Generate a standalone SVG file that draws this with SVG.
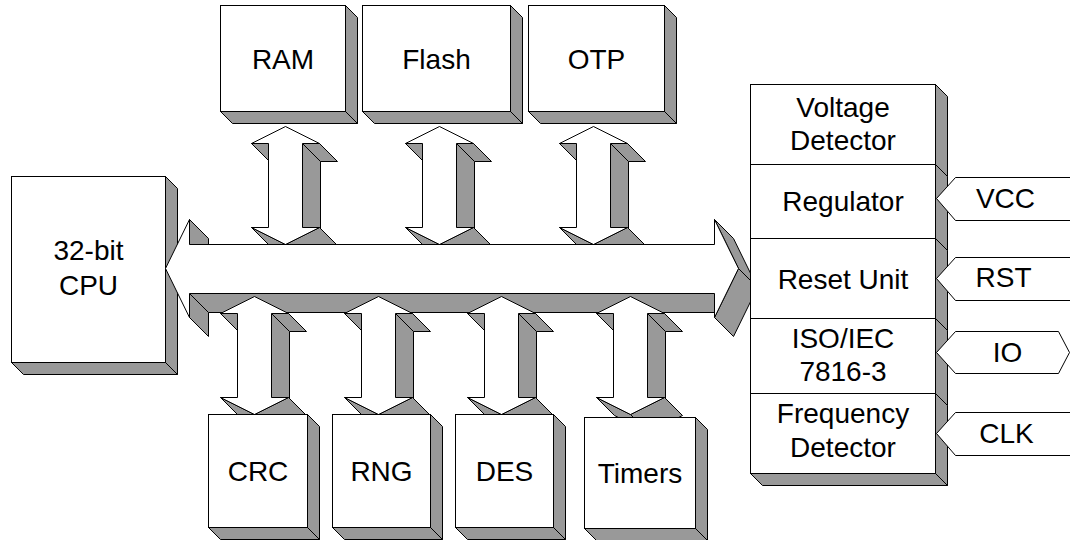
<svg xmlns="http://www.w3.org/2000/svg" xmlns:xlink="http://www.w3.org/1999/xlink" width="1070" height="540" viewBox="0 0 1070 540">
<style>
.f{fill:#fff;stroke:#000;stroke-width:1}
.s{fill:#999;stroke:#000;stroke-width:1;stroke-linejoin:round}
.t{font-family:"Liberation Sans",Arial,sans-serif;font-size:28px;fill:#000;text-anchor:middle}
</style>
<defs>
<g id="varrow">
<polygon class="s" points="-17,17 -34,17 -16,35 1,35"/>
<polygon class="s" points="34,17 17,17 35,35 52,35"/>
<polygon class="s" points="17,17 17,101 35,119 35,35"/>
<polygon class="s" points="0,118 -34,101 -16,119 18,136"/>
<polygon class="s" points="34,101 0,118 18,136 52,119"/>
<polygon class="f" points="0,0 34,17 17,17 17,101 34,101 0,118 -34,101 -17,101 -17,17 -34,17"/>
</g>
</defs>
<rect width="1070" height="540" fill="#fff"/>
<g transform="translate(0.5,0.5)">
<g id="ram">
<polygon class="s" points="345,5 357,17 357,123 345,111"/>
<polygon class="s" points="220,111 345,111 357,123 232,123"/>
<rect class="f" x="220" y="5" width="125" height="106"/>
<text class="t" x="282.5" y="68">RAM</text>
</g>
<g id="flash">
<polygon class="s" points="510,5 522,17 522,123 510,111"/>
<polygon class="s" points="362,111 510,111 522,123 374,123"/>
<rect class="f" x="362" y="5" width="148" height="106"/>
<text class="t" x="436" y="68">Flash</text>
</g>
<g id="otp">
<polygon class="s" points="664,5 676,17 676,123 664,111"/>
<polygon class="s" points="528,111 664,111 676,123 540,123"/>
<rect class="f" x="528" y="5" width="136" height="106"/>
<text class="t" x="596" y="68">OTP</text>
</g>
<g id="cpu">
<polygon class="s" points="165,176 177,188 177,374 165,362"/>
<polygon class="s" points="11,362 165,362 177,374 23,374"/>
<rect class="f" x="11" y="176" width="154" height="186"/>
<text class="t" x="88" y="259">32-bit</text>
<text class="t" x="88" y="294">CPU</text>
</g>
<g id="connectors">
<use xlink:href="#varrow" x="285" y="126"/>
<use xlink:href="#varrow" x="439" y="126"/>
<use xlink:href="#varrow" x="593" y="126"/>
<g id="bus">
<polygon class="s" points="714,293 189,293 208,312 733,312"/>
<polygon class="s" points="189,293 189,317 208,336 208,312"/>
<polygon class="s" points="189,219 189,244 208,263 208,238"/>
<polygon class="s" points="714,219 738,268 757,287 733,238"/>
<polygon class="s" points="738,268 714,317 733,336 757,287"/>
<polygon class="f" points="165,268 189,219 189,244 714,244 714,219 738,268 714,317 714,293 189,293 189,317"/>
</g>
<use xlink:href="#varrow" x="254" y="296"/>
<use xlink:href="#varrow" x="378" y="296"/>
<use xlink:href="#varrow" x="501" y="296"/>
<use xlink:href="#varrow" x="630" y="296"/>
</g>
<g id="crc">
<polygon class="s" points="307,414 319,426 319,539 307,527"/>
<polygon class="s" points="208,527 307,527 319,539 220,539"/>
<rect class="f" x="208" y="414" width="99" height="113"/>
<text class="t" x="257.5" y="480">CRC</text>
</g>
<g id="rng">
<polygon class="s" points="430,414 442,426 442,539 430,527"/>
<polygon class="s" points="332,527 430,527 442,539 344,539"/>
<rect class="f" x="332" y="414" width="98" height="113"/>
<text class="t" x="381" y="480">RNG</text>
</g>
<g id="des">
<polygon class="s" points="553,414 565,426 565,539 553,527"/>
<polygon class="s" points="455,527 553,527 565,539 467,539"/>
<rect class="f" x="455" y="414" width="98" height="113"/>
<text class="t" x="504" y="480">DES</text>
</g>
<g id="timers">
<polygon class="s" points="695,417 707,429 707,540 695,528"/>
<polygon class="s" points="584,528 695,528 707,540 596,540"/>
<rect class="f" x="584" y="417" width="111" height="111"/>
<text class="t" x="639.5" y="482">Timers</text>
</g>
<g id="voltage-detector">
<polygon class="s" points="935,84 947,96 947,176 935,164"/>
<polygon class="s" points="750,164 935,164 947,176 762,176"/>
<rect class="f" x="750" y="84" width="185" height="80"/>
<text class="t" x="842.5" y="116">Voltage</text>
<text class="t" x="842.5" y="149">Detector</text>
</g>
<g id="regulator">
<polygon class="s" points="935,164 947,176 947,250 935,238"/>
<polygon class="s" points="750,238 935,238 947,250 762,250"/>
<rect class="f" x="750" y="164" width="185" height="74"/>
<text class="t" x="842.5" y="210">Regulator</text>
</g>
<g id="reset-unit">
<polygon class="s" points="935,238 947,250 947,330 935,318"/>
<polygon class="s" points="750,318 935,318 947,330 762,330"/>
<rect class="f" x="750" y="238" width="185" height="80"/>
<text class="t" x="842.5" y="288">Reset Unit</text>
</g>
<g id="iso-iec">
<polygon class="s" points="935,318 947,330 947,405 935,393"/>
<polygon class="s" points="750,393 935,393 947,405 762,405"/>
<rect class="f" x="750" y="318" width="185" height="75"/>
<text class="t" x="842.5" y="347">ISO/IEC</text>
<text class="t" x="842.5" y="380">7816-3</text>
</g>
<g id="frequency-detector">
<polygon class="s" points="935,393 947,405 947,485 935,473"/>
<polygon class="s" points="750,473 935,473 947,485 762,485"/>
<rect class="f" x="750" y="393" width="185" height="80"/>
<text class="t" x="842.5" y="422">Frequency</text>
<text class="t" x="842.5" y="456">Detector</text>
</g>
<g id="vcc">
<polygon class="f" points="936,198 955,177 1080,177 1080,220 955,220"/>
<text class="t" x="1005" y="207">VCC</text>
</g>
<g id="rst">
<polygon class="f" points="936,278 955,257 1080,257 1080,300 955,300"/>
<text class="t" x="1003" y="286">RST</text>
</g>
<g id="io">
<polygon class="f" points="936,352 955,331 1058,331 1069,352 1058,373 955,373"/>
<text class="t" x="1007" y="361">IO</text>
</g>
<g id="clk">
<polygon class="f" points="936,433 955,412 1080,412 1080,455 955,455"/>
<text class="t" x="1006" y="442">CLK</text>
</g>
</g>
</svg>
